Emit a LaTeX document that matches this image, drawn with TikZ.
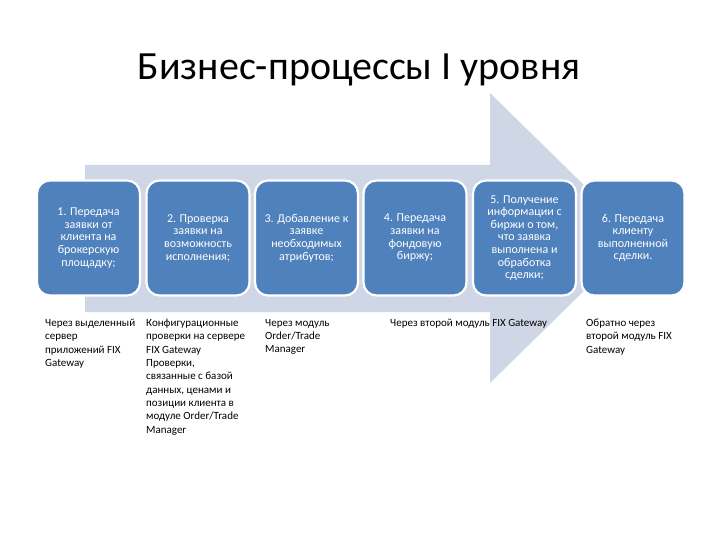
\documentclass[tikz,border=0pt]{standalone}
\usepackage{fontspec}
\setmainfont{Carlito}
\definecolor{arrowfill}{RGB}{207,214,229}
\definecolor{boxfill}{RGB}{79,129,189}
\tikzset{
  stepbox/.style={draw=white, line width=2.2pt, fill=boxfill, rounded corners=13pt,
    minimum width=103pt, minimum height=115pt, inner sep=0pt, text=white,
    align=center, font=\fontsize{12}{12.6}\selectfont},
  note/.style={anchor=north west, align=left, inner sep=0pt, text=black,
    font=\fontsize{11}{13.3}\selectfont}
}
\begin{document}
\begin{tikzpicture}[x=1pt,y=-1pt]
\useasboundingbox (0,0) rectangle (720,540);
\node[font=\fontsize{40}{44}\selectfont, anchor=center] (title) at (359,70) {Бизнес-процессы I уровня};
\fill[arrowfill] (85,165) -- (490,165) -- (490,93) -- (638,238) -- (490,383) -- (490,312) -- (85,312) -- cycle;
\node[stepbox] (b1) at (88.5,238) {1. Передача\\заявки от\\клиента на\\брокерскую\\площадку;};
\node[stepbox] (b2) at (198,238) {2. Проверка\\заявки на\\возможность\\исполнения;};
\node[stepbox] (b3) at (306.5,238) {3. Добавление к\\заявке\\необходимых\\атрибутов;};
\node[stepbox] (b4) at (415,238) {4. Передача\\заявки на\\фондовую\\биржу;};
\node[stepbox] (b5) at (524.5,238) {5. Получение\\информации с\\биржи о том,\\что заявка\\выполнена и\\обработка\\сделки;};
\node[stepbox] (b6) at (633,238) {6. Передача\\клиенту\\выполненной\\сделки.};
\node[note] (n1) at (45,319) {Через выделенный\\сервер\\приложений FIX\\Gateway};
\node[note] (n2) at (146,319) {Конфигурационные\\проверки на сервере\\FIX Gateway\\Проверки,\\связанные с базой\\данных, ценами и\\позиции клиента в\\модуле Order/Trade\\Manager};
\node[note] (n3) at (265,319) {Через модуль\\Order/Trade\\Manager};
\node[note] (n4) at (390,319) {Через второй модуль FIX Gateway};
\node[note] (n6) at (586,319) {Обратно через\\второй модуль FIX\\Gateway};
\end{tikzpicture}
\end{document}
